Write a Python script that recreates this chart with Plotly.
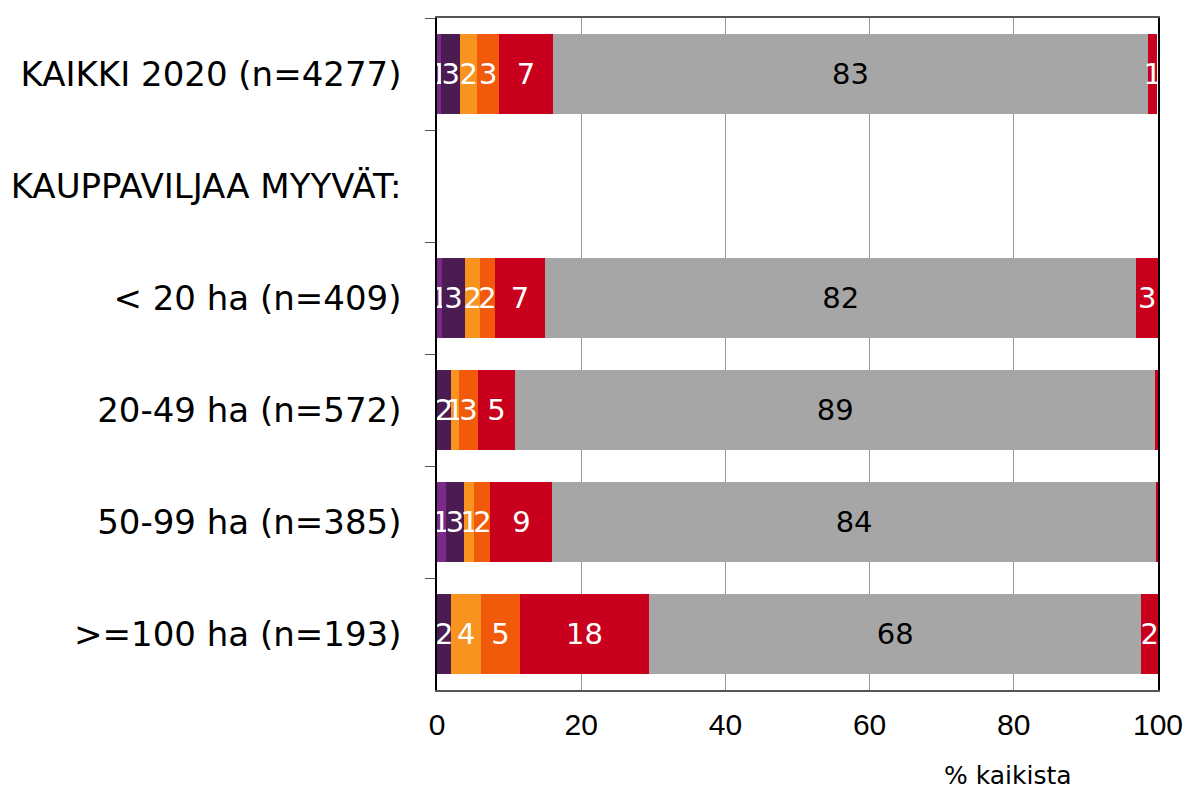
import plotly.graph_objects as go

categories = ["KAIKKI 2020 (n=4277)", "KAUPPAVILJAA MYYVÄT:", "< 20 ha (n=409)",
              "20-49 ha (n=572)", "50-99 ha (n=385)", ">=100 ha (n=193)"]

series_names = ["Luokka 1", "Luokka 2", "Luokka 3", "Luokka 4", "Luokka 5", "Luokka 6", "Luokka 7"]
series_colors = ["#7B2A8A", "#4B1C52", "#F7931E", "#F15A0A", "#C8001E", "#A6A6A6", "#C8001E"]
label_colors = ["white", "white", "white", "white", "white", "black", "white"]

# values per category row (None for the heading row)
kaikki = [0.55, 2.7, 2.3, 3.1, 7.4, 82.6, 1.25]
alle20 = [0.7, 3.2, 2.1, 2.0, 7.0, 82.0, 3.0]
ha20_49 = [0.0, 1.9, 1.15, 2.6, 5.2, 88.75, 0.4]
ha50_99 = [1.2, 2.6, 1.4, 2.2, 8.6, 83.7, 0.3]
yli100 = [0.0, 2.0, 4.1, 5.4, 17.9, 68.3, 2.3]
heading = [None] * 7

rows = [kaikki, heading, alle20, ha20_49, ha50_99, yli100]

x_ticks = [0, 20, 40, 60, 80, 100]

fig = go.Figure()
for i, name in enumerate(series_names):
    vals = [r[i] for r in rows]
    texts = []
    for v in vals:
        if v is None or int(f"{v:.0f}") == 0:
            texts.append("")
        else:
            texts.append(f"{v:.0f}")
    fig.add_trace(go.Bar(
        y=categories, x=vals, name=name, orientation="h",
        marker=dict(color=series_colors[i], line=dict(width=0)),
        text=texts, textposition="inside", insidetextanchor="middle",
        textangle=0, constraintext="none",
        insidetextfont=dict(family="DejaVu Sans", size=29, color=label_colors[i]),
        hoverinfo="x+y+name",
    ))

fig.update_layout(
    barmode="stack", bargap=0.286,
    width=1191, height=788,
    margin=dict(l=429, r=41, t=10, b=106, autoexpand=False),
    plot_bgcolor="white", paper_bgcolor="white",
    showlegend=False,
    uniformtext=dict(minsize=29, mode="show"),
    xaxis=dict(range=[0, 100], tickvals=x_ticks, showgrid=True, gridcolor="#999999", gridwidth=1,
               showline=True, linecolor="#555555", linewidth=1.5, mirror=True,
               ticks="", zeroline=False, automargin=False,
               tickfont=dict(family="Liberation Sans, Arial", size=30, color="black"),
               ticklabelstandoff=7),
    xaxis2=dict(range=[0, 100], tickvals=x_ticks, overlaying="x", side="top", anchor="y",
                ticks="outside", ticklen=9, tickcolor="#777777", showticklabels=False,
                showgrid=False, zeroline=False, showline=False, automargin=False),
    yaxis=dict(categoryorder="array", categoryarray=categories, autorange="reversed",
               showline=True, linecolor="black", linewidth=1.5, mirror=True,
               tickson="boundaries", ticks="outside", ticklen=10, tickcolor="#555555",
               showgrid=False, zeroline=False, automargin=False,
               tickfont=dict(family="DejaVu Sans", size=34, color="black"),
               ticklabelstandoff=27),
    annotations=[dict(text="% kaikista", xref="x", x=79.2, yref="paper", y=-0.1265,
                      yanchor="middle", xanchor="center", showarrow=False,
                      font=dict(family="DejaVu Sans", size=25, color="black"))],
)

fig.write_html("out.html")
